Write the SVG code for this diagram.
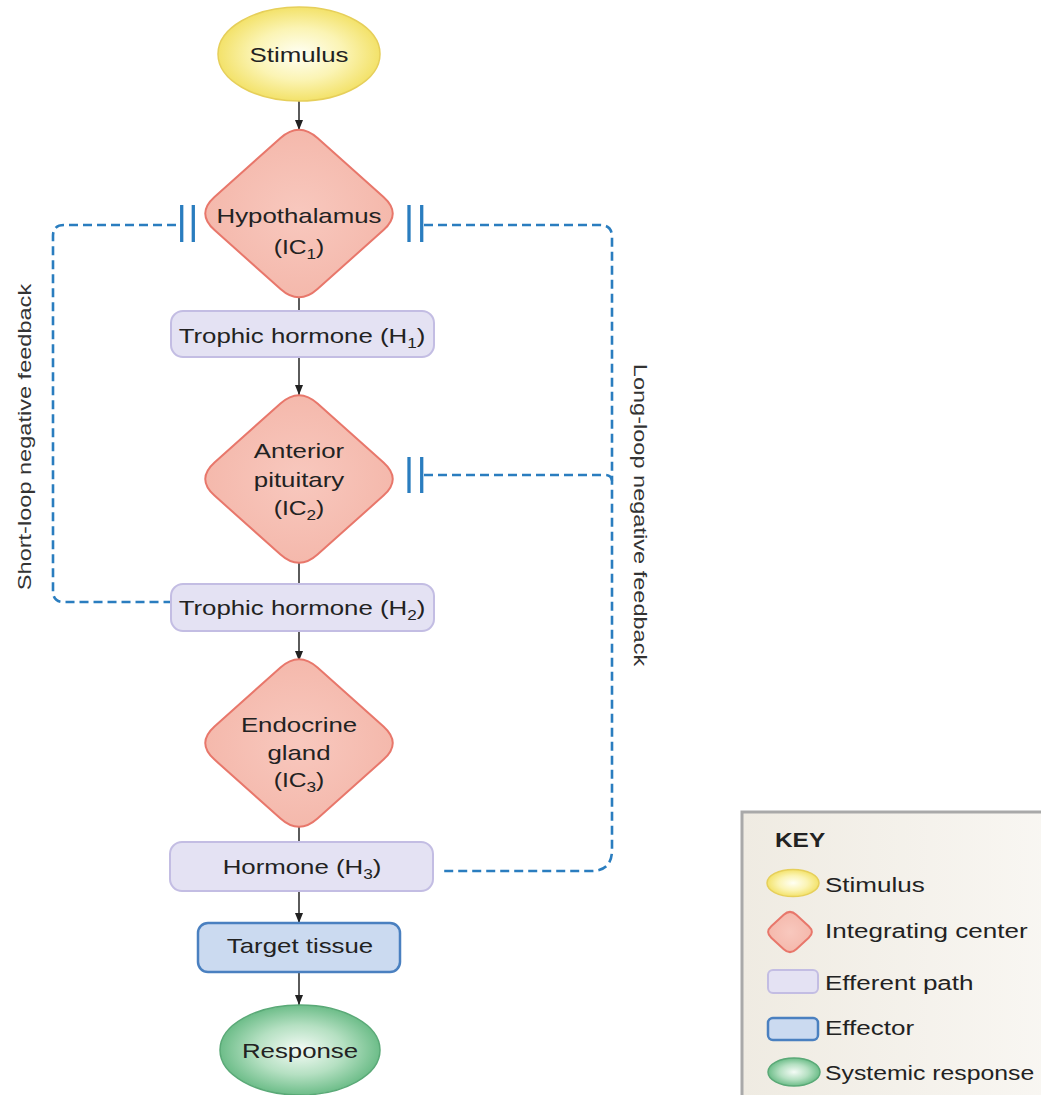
<svg xmlns="http://www.w3.org/2000/svg" width="1041" height="1095" viewBox="0 0 1041 1095">
<style>
text{font-family:"Liberation Sans",Arial,sans-serif;fill:#222;}
.t{font-size:21px;text-anchor:middle;}
.ic{font-size:20px;text-anchor:middle;}
.sub{font-size:14px;}
.side{font-size:19px;text-anchor:middle;fill:#333;}
.key{font-size:21px;}
.keyh{font-size:20px;font-weight:bold;}
.diam{fill:url(#gDiam);stroke:#e8776b;stroke-width:2;}
.eff{fill:#e4e2f3;stroke:#c3bde3;stroke-width:2;}
.effector{fill:#cbdaf0;stroke:#4a80c0;stroke-width:2.5;}
.stim{fill:url(#gStim);stroke:#e6cf5a;stroke-width:1.5;}
.resp{fill:url(#gResp);stroke:#5aa977;stroke-width:1.5;}
.link{stroke:#333;stroke-width:1.6;fill:none;}
.dash{stroke:#2a7dbf;stroke-width:2.6;fill:none;stroke-dasharray:9 5;}
.bar{stroke:#2a7dbf;stroke-width:3.3;fill:none;}
</style>
<defs>
<radialGradient id="gStim" cx="50%" cy="50%" r="50%">
<stop offset="0" stop-color="#fffff4"/>
<stop offset="0.55" stop-color="#fbf4b4"/>
<stop offset="1" stop-color="#f3e26a"/>
</radialGradient>
<radialGradient id="gResp" cx="50%" cy="50%" r="50%">
<stop offset="0" stop-color="#f4fbf6"/>
<stop offset="0.55" stop-color="#b5e0c2"/>
<stop offset="1" stop-color="#6dbd89"/>
</radialGradient>
<radialGradient id="gDiam" cx="50%" cy="50%" r="55%">
<stop offset="0" stop-color="#f8c8be"/>
<stop offset="1" stop-color="#f4b7aa"/>
</radialGradient>
<linearGradient id="gKey" x1="0" y1="0" x2="1" y2="0">
<stop offset="0" stop-color="#efebe2"/>
<stop offset="1" stop-color="#f9f7f3"/>
</linearGradient>
<path id="diamond" d="M -18.5 -75.4 Q 0 -92 18.5 -75.4 L 84.5 -16.6 Q 103 0 84.5 16.6 L 18.5 75.4 Q 0 92 -18.5 75.4 L -84.5 16.6 Q -103 0 -84.5 -16.6 Z"/>
<marker id="arr" viewBox="0 0 10 8" refX="10" refY="4" markerWidth="10" markerHeight="8" markerUnits="userSpaceOnUse" orient="auto">
<path d="M0,0 L10,4 L0,8 z" fill="#222"/>
</marker>
</defs>
<rect width="1041" height="1095" fill="#ffffff"/>

<g id="connectors">
<line class="link" x1="299" y1="101" x2="299" y2="130" marker-end="url(#arr)"/>
<line class="link" x1="299" y1="297" x2="299" y2="311"/>
<line class="link" x1="299" y1="357" x2="299" y2="395" marker-end="url(#arr)"/>
<line class="link" x1="299" y1="562" x2="299" y2="584"/>
<line class="link" x1="299" y1="631" x2="299" y2="661" marker-end="url(#arr)"/>
<line class="link" x1="299" y1="825" x2="299" y2="842"/>
<line class="link" x1="299" y1="891" x2="299" y2="923" marker-end="url(#arr)"/>
<line class="link" x1="299" y1="972" x2="299" y2="1005" marker-end="url(#arr)"/>
<path class="dash" d="M 176 225 L 64 225 Q 53 225 53 236 L 53 591 Q 53 602 64 602 L 171 602"/>
<line class="bar" x1="181.7" y1="205" x2="181.7" y2="242"/>
<line class="bar" x1="193.3" y1="205" x2="193.3" y2="242"/>
<path class="dash" d="M 424 225 L 600 225 Q 612 225 612 237 L 612 850 Q 612 871 591 871 L 442 871"/>
<path class="dash" d="M 424 475 L 605 475 Q 612 475 612 482"/>
<line class="bar" x1="409" y1="205" x2="409" y2="242"/>
<line class="bar" x1="421.7" y1="205" x2="421.7" y2="242"/>
<line class="bar" x1="409" y1="457" x2="409" y2="493"/>
<line class="bar" x1="421.7" y1="457" x2="421.7" y2="493"/>
<text class="side" transform="translate(31 437) rotate(-90) scale(1.24 1)" x="0" y="0">Short-loop negative feedback</text>
<text class="side" transform="translate(634 515) rotate(90) scale(1.24 1)" x="0" y="0">Long-loop negative feedback</text>
</g>

<g id="stimulus">
<ellipse class="stim" cx="299" cy="54" rx="81" ry="47"/>
<text class="t" transform="translate(299 0) scale(1.23 1)" x="0" y="62">Stimulus</text>
</g>

<g id="hypothalamus">
<use href="#diamond" class="diam" transform="translate(299 213.5)"/>
<text class="t" transform="translate(299 0) scale(1.23 1)" x="0" y="223">Hypothalamus</text>
<text class="ic" transform="translate(299 0) scale(1.23 1)" x="0" y="254">(IC<tspan class="sub" dy="5">1</tspan><tspan dy="-5">)</tspan></text>
</g>

<g id="trophic-h1">
<rect class="eff" x="171" y="311" width="263" height="46" rx="12"/>
<text class="t" transform="translate(302 0) scale(1.23 1)" x="0" y="343">Trophic hormone (H<tspan class="sub" dy="5">1</tspan><tspan dy="-5">)</tspan></text>
</g>

<g id="anterior-pituitary">
<use href="#diamond" class="diam" transform="translate(299 479)"/>
<text class="t" transform="translate(299 0) scale(1.23 1)" x="0" y="458">Anterior</text>
<text class="t" transform="translate(299 0) scale(1.23 1)" x="0" y="487">pituitary</text>
<text class="ic" transform="translate(299 0) scale(1.23 1)" x="0" y="515">(IC<tspan class="sub" dy="5">2</tspan><tspan dy="-5">)</tspan></text>
</g>

<g id="trophic-h2">
<rect class="eff" x="171" y="584" width="263" height="47" rx="12"/>
<text class="t" transform="translate(302 0) scale(1.23 1)" x="0" y="615">Trophic hormone (H<tspan class="sub" dy="5">2</tspan><tspan dy="-5">)</tspan></text>
</g>

<g id="endocrine-gland">
<use href="#diamond" class="diam" transform="translate(299 743)"/>
<text class="t" transform="translate(299 0) scale(1.23 1)" x="0" y="732">Endocrine</text>
<text class="t" transform="translate(299 0) scale(1.23 1)" x="0" y="760">gland</text>
<text class="ic" transform="translate(299 0) scale(1.23 1)" x="0" y="787">(IC<tspan class="sub" dy="5">3</tspan><tspan dy="-5">)</tspan></text>
</g>

<g id="hormone-h3">
<rect class="eff" x="170" y="842" width="263" height="49" rx="12"/>
<text class="t" transform="translate(302 0) scale(1.23 1)" x="0" y="874">Hormone (H<tspan class="sub" dy="5">3</tspan><tspan dy="-5">)</tspan></text>
</g>

<g id="target-tissue">
<rect class="effector" x="198" y="923" width="202" height="49" rx="10"/>
<text class="t" transform="translate(300 0) scale(1.23 1)" x="0" y="953">Target tissue</text>
</g>

<g id="response">
<ellipse class="resp" cx="300" cy="1050" rx="80" ry="45"/>
<text class="t" transform="translate(300 0) scale(1.23 1)" x="0" y="1058">Response</text>
</g>

<g id="key">
<rect x="742" y="812" width="320" height="300" fill="url(#gKey)" stroke="#a9a9a9" stroke-width="3"/>
<text class="keyh" transform="translate(775 0) scale(1.22 1)" x="0" y="847">KEY</text>
<ellipse class="stim" cx="793" cy="883" rx="26" ry="13.5"/>
<text class="key" transform="translate(825 0) scale(1.24 1)" x="0" y="892">Stimulus</text>
<path class="diam" transform="translate(790 932)" d="M -6.25 -17.25 Q 0 -23 6.25 -17.25 L 18.75 -5.75 Q 25 0 18.75 5.75 L 6.25 17.25 Q 0 23 -6.25 17.25 L -18.75 5.75 Q -25 0 -18.75 -5.75 Z"/>
<text class="key" transform="translate(825 0) scale(1.24 1)" x="0" y="938">Integrating center</text>
<rect class="eff" x="768" y="970" width="50" height="23" rx="5"/>
<text class="key" transform="translate(825 0) scale(1.24 1)" x="0" y="990">Efferent path</text>
<rect class="effector" x="768" y="1018" width="50" height="22" rx="5"/>
<text class="key" transform="translate(825 0) scale(1.24 1)" x="0" y="1035">Effector</text>
<ellipse class="resp" cx="794" cy="1072" rx="26" ry="14"/>
<text class="key" transform="translate(825 0) scale(1.18 1)" x="0" y="1080">Systemic response</text>
</g>
</svg>
